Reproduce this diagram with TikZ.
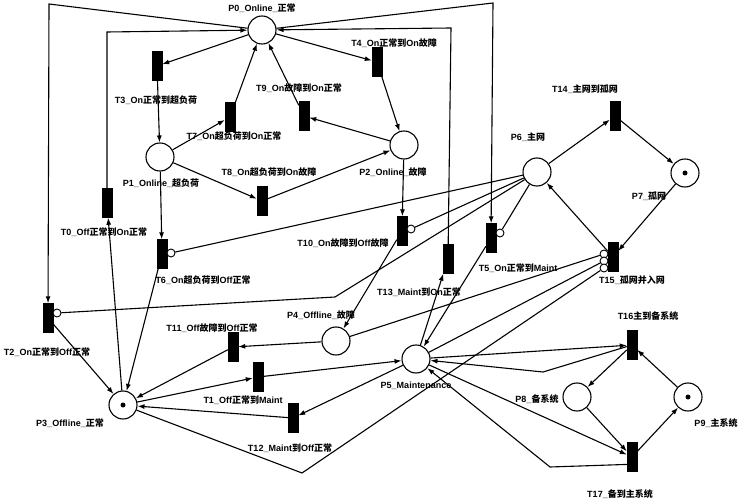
\documentclass[tikz,border=0pt]{standalone}
\usepackage{fontspec}
\setmainfont{Liberation Sans}
\newfontfamily\cjk{Noto Sans CJK SC}
\newcommand{\zh}[1]{{\cjk #1}}
\usetikzlibrary{arrows.meta,positioning,calc}

\begin{document}
\begin{tikzpicture}[x=1pt,y=-1pt,>={Latex[length=7pt,width=5pt]},
  place/.style={draw,circle,line width=1.1pt,minimum size=28pt,inner sep=0pt},
  trans/.style={draw,fill=black,rectangle,minimum width=10pt,minimum height=29pt,inner sep=0pt},
  inh/.style={draw,circle,fill=white,line width=0.9pt,minimum size=8pt,inner sep=0pt},
  token/.style={circle,fill=black,minimum size=5pt,inner sep=0pt},
  lbl/.style={font=\bfseries\fontsize{9}{10}\selectfont,inner sep=0pt},
  arc/.style={->,line width=1.1pt},
  inarc/.style={line width=1.1pt}]
  \useasboundingbox (0,0) rectangle (740,500);
  \foreach \n/\x/\y in {p0/262/30,p1/160/157,p2/404/145,p3/123/405,p4/336/341,
      p5/416/359,p6/537/172,p7/685/173,p8/577/397,p9/688/397}{
    \node[place] (\n) at (\x,\y) {};
  }
  \foreach \n/\x/\y in {t0/107/203,t1/258/377,t2/48/318,t3/157/66,t4/377/62,
      t5/491/238,t6/162/254,t7/230/117,t8/262/201,t9/304/116,t10/402/231,
      t11/233/347,t12/293/418,t13/448/259,t14/615/116,t15/613/257,t16/632/345,t17/632/457}{
    \node[trans] (\n) at (\x,\y) {};
  }
  \foreach \n/\x/\y in {t2i/57/313,t6i/171/253,t10i/411/229,t5i/500/233,
      t15a/604/254,t15b/604/261,t15c/604/268}{
    \node[inh] (\n) at (\x,\y) {};
  }
  \node[token] (k3) at (p3) {};
  \node[token] (k7) at (p7) {};
  \node[token] (k9) at (p9) {};

  \coordinate (c0) at (107,32);
  \coordinate (c2) at (49,4);
  \coordinate (c5) at (493,3);
  \coordinate (c13) at (451,28);
  \coordinate (c2i) at (335,297);
  \coordinate (c15) at (302,473);
  \coordinate (c16) at (543,372);
  \coordinate (c17) at (550,467);

  \draw[arc] (p0) -- (t3);
  \draw[arc] (t3) -- (p1);
  \draw[arc] (p1) -- (t7);
  \draw[arc] (t7) -- (p0);
  \draw[arc] (p1) -- (t8);
  \draw[arc] (t8) -- (p2);
  \draw[arc] (p2) -- (t9);
  \draw[arc] (t9) -- (p0);
  \draw[arc] (p0) -- (t4);
  \draw[arc] (t4) -- (p2);
  \draw[arc] (p1) -- (t6);
  \draw[arc] (t6) -- (p3);
  \draw[arc] (p2) -- (t10);
  \draw[arc] (t10) -- (p4);
  \draw[arc] (p4) -- (t11);
  \draw[arc] (t11) -- (p3);
  \draw[arc] (p3) -- (t1);
  \draw[arc] (t1) -- (p5);
  \draw[arc] (p5) -- (t12);
  \draw[arc] (t12) -- (p3);
  \draw[arc] (p3) -- (t0);
  \draw[arc] (t0) -- (c0) -- (p0);
  \draw[arc] (p0) -- (c2) -- (t2);
  \draw[arc] (t2) -- (p3);
  \draw[arc] (p0) -- (c5) -- (t5);
  \draw[arc] (t5) -- (p5);
  \draw[arc] (p5) -- (t13);
  \draw[arc] (t13) -- (c13) -- (p0);
  \draw[arc] (p6) -- (t14);
  \draw[arc] (t14) -- (p7);
  \draw[arc] (p7) -- (t15);
  \draw[arc] (t15) -- (p6);
  \draw[arc] (p5) -- (t16);
  \draw[arc] (t16) -- (c16) -- (p5);
  \draw[arc] (t16) -- (p8);
  \draw[arc] (p9) -- (t16);
  \draw[arc] (p8) -- (t17);
  \draw[arc] (t17) -- (p9);
  \draw[arc] (p5) -- (t17);
  \draw[arc] (t17.235) -- (c17) -- (p5);

  \draw[inarc] (p6) -- (c2i) -- (t2i);
  \draw[inarc] (p6) -- (t6i);
  \draw[inarc] (p6) -- (t10i);
  \draw[inarc] (p6) -- (t5i);
  \draw[inarc] (p4) -- (t15a);
  \draw[inarc] (p5) -- (t15b);
  \draw[inarc] (p3) -- (c15) -- (t15c);

  \node[lbl] (lp0) at (262,8) {P0\_Online\_\zh{正常}};
  \node[lbl] (lp1) at (161,183) {P1\_Online\_\zh{超负荷}};
  \node[lbl] (lp2) at (393,172) {P2\_Online\_\zh{故障}};
  \node[lbl] (lp3) at (70,423) {P3\_Offline\_\zh{正常}};
  \node[lbl] (lp4) at (321,315) {P4\_Offline\_\zh{故障}};
  \node[lbl] (lp5) at (416,386) {P5\_Maintenance};
  \node[lbl] (lp6) at (528,137) {P6\_\zh{主网}};
  \node[lbl] (lp7) at (649,196) {P7\_\zh{孤网}};
  \node[lbl] (lp8) at (537,399) {P8\_\zh{备系统}};
  \node[lbl] (lp9) at (716,423) {P9\_\zh{主系统}};
  \node[lbl] (lt0) at (104,232) {T0\_Off\zh{正常到}On\zh{正常}};
  \node[lbl] (lt1) at (243,400) {T1\_Off\zh{正常到}Maint};
  \node[lbl] (lt2) at (47,352) {T2\_On\zh{正常到}Off\zh{正常}};
  \node[lbl] (lt3) at (156,100) {T3\_On\zh{正常到超负荷}};
  \node[lbl] (lt4) at (394,43) {T4\_On\zh{正常到}On\zh{故障}};
  \node[lbl] (lt5) at (518,268) {T5\_On\zh{正常到}Maint};
  \node[lbl] (lt6) at (203,280) {T6\_On\zh{超负荷到}Off\zh{正常}};
  \node[lbl] (lt7) at (234,136) {T7\_On\zh{超负荷到}On\zh{正常}};
  \node[lbl] (lt8) at (269,172) {T8\_On\zh{超负荷到}On\zh{故障}};
  \node[lbl] (lt9) at (299,88) {T9\_On\zh{故障到}On\zh{正常}};
  \node[lbl] (lt10) at (343,243) {T10\_On\zh{故障到}Off\zh{故障}};
  \node[lbl] (lt11) at (212,328) {T11\_Off\zh{故障到}Off\zh{正常}};
  \node[lbl] (lt12) at (290,448) {T12\_Maint\zh{到}Off\zh{正常}};
  \node[lbl] (lt13) at (419,292) {T13\_Maint\zh{到}On\zh{正常}};
  \node[lbl] (lt14) at (585,89) {T14\_\zh{主网到孤网}};
  \node[lbl] (lt15) at (632,280) {T15\_\zh{孤网并入网}};
  \node[lbl] (lt16) at (648,316) {T16\zh{主到备系统}};
  \node[lbl] (lt17) at (620,494) {T17\_\zh{备到主系统}};
\end{tikzpicture}
\end{document}
